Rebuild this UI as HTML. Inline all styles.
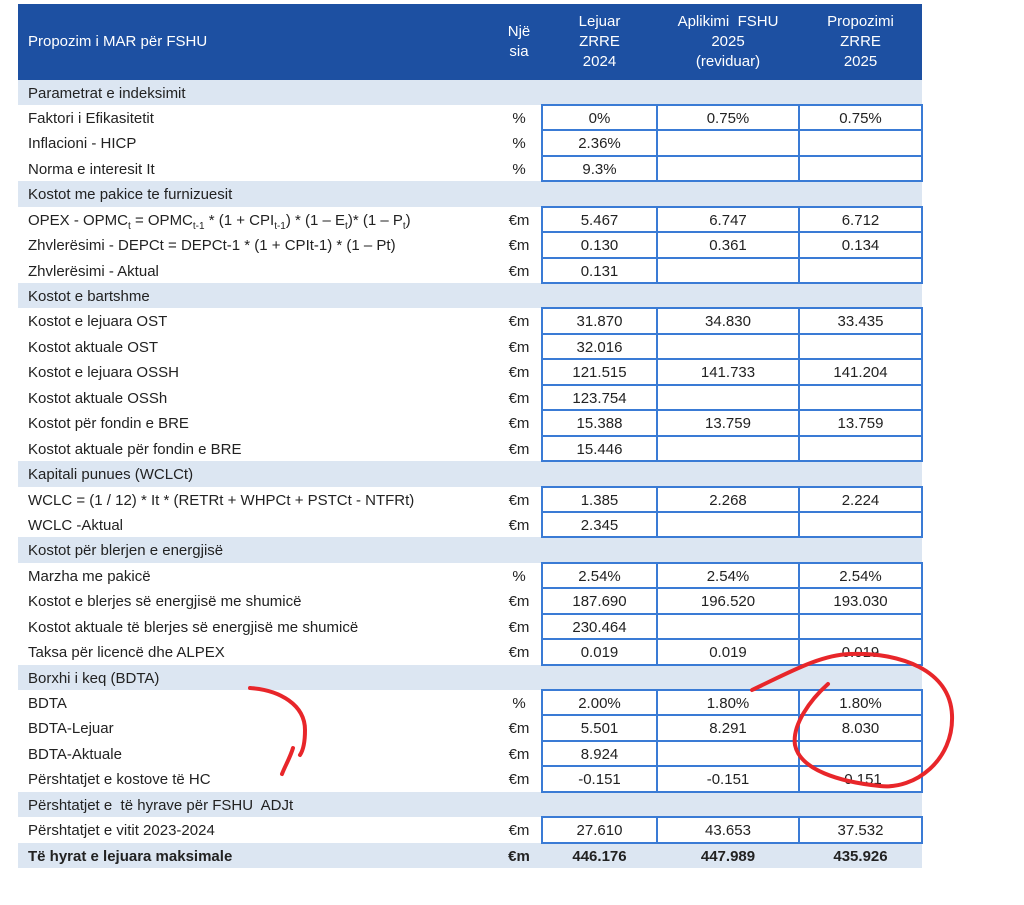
<!DOCTYPE html>
<html><head><meta charset="utf-8"><style>
html,body{margin:0;padding:0;background:#fff;width:1024px;height:905px;overflow:hidden}
body{position:relative;font-family:"Liberation Sans",sans-serif;color:#222}
#t{position:absolute;left:18px;top:4px;width:904px}
.r{display:flex;height:25.45px;line-height:27px;font-size:15px;white-space:nowrap}
.r div{height:25.45px;box-sizing:border-box}
.h{height:75.5px;background:#1d50a2;color:#fff;display:flex;text-align:center;font-size:15px;line-height:20px}
.h div{display:flex;align-items:center;justify-content:center}
.s{background:#dce6f2}
.l{width:478px;padding-left:10px;box-sizing:border-box;overflow:hidden}
.u{width:46px;text-align:center}
.c1{width:115px;text-align:center}.c2{width:142px;text-align:center}.c3{width:123px;text-align:center}
.b .c1,.b .c2,.b .c3{box-shadow:0 0 0 1px #3a7bd5, inset 0 0 0 1px #3a7bd5}
.t{background:#dce6f2;font-weight:bold}
sub{font-size:10px;line-height:0}
svg{position:absolute;left:0;top:0}
</style></head><body>
<div id="t">
<div class="h"><div class="l" style="justify-content:flex-start">Propozim i MAR për FSHU</div><div class="u">Një<br>sia</div><div class="c1">Lejuar<br>ZRRE<br>2024</div><div class="c2">Aplikimi&nbsp; FSHU<br>2025<br>(reviduar)</div><div class="c3">Propozimi<br>ZRRE<br>2025</div></div>
<div class="r s"><div class="l">Parametrat e indeksimit</div></div>
<div class="r b"><div class="l">Faktori i Efikasitetit</div><div class="u">%</div><div class="c1">0%</div><div class="c2">0.75%</div><div class="c3">0.75%</div></div>
<div class="r b"><div class="l">Inflacioni - HICP</div><div class="u">%</div><div class="c1">2.36%</div><div class="c2"></div><div class="c3"></div></div>
<div class="r b"><div class="l">Norma e interesit It</div><div class="u">%</div><div class="c1">9.3%</div><div class="c2"></div><div class="c3"></div></div>
<div class="r s"><div class="l">Kostot me pakice te furnizuesit</div></div>
<div class="r b"><div class="l">OPEX - OPMC<sub>t</sub> = OPMC<sub>t-1</sub> * (1 + CPI<sub>t-1</sub>) * (1 – E<sub>t</sub>)* (1 – P<sub>t</sub>)</div><div class="u">€m</div><div class="c1">5.467</div><div class="c2">6.747</div><div class="c3">6.712</div></div>
<div class="r b"><div class="l">Zhvlerësimi - DEPCt = DEPCt-1 * (1 + CPIt-1) * (1 – Pt)</div><div class="u">€m</div><div class="c1">0.130</div><div class="c2">0.361</div><div class="c3">0.134</div></div>
<div class="r b"><div class="l">Zhvlerësimi - Aktual</div><div class="u">€m</div><div class="c1">0.131</div><div class="c2"></div><div class="c3"></div></div>
<div class="r s"><div class="l">Kostot e bartshme</div></div>
<div class="r b"><div class="l">Kostot e lejuara OST</div><div class="u">€m</div><div class="c1">31.870</div><div class="c2">34.830</div><div class="c3">33.435</div></div>
<div class="r b"><div class="l">Kostot aktuale OST</div><div class="u">€m</div><div class="c1">32.016</div><div class="c2"></div><div class="c3"></div></div>
<div class="r b"><div class="l">Kostot e lejuara OSSH</div><div class="u">€m</div><div class="c1">121.515</div><div class="c2">141.733</div><div class="c3">141.204</div></div>
<div class="r b"><div class="l">Kostot aktuale OSSh</div><div class="u">€m</div><div class="c1">123.754</div><div class="c2"></div><div class="c3"></div></div>
<div class="r b"><div class="l">Kostot për fondin e BRE</div><div class="u">€m</div><div class="c1">15.388</div><div class="c2">13.759</div><div class="c3">13.759</div></div>
<div class="r b"><div class="l">Kostot aktuale për fondin e BRE</div><div class="u">€m</div><div class="c1">15.446</div><div class="c2"></div><div class="c3"></div></div>
<div class="r s"><div class="l">Kapitali punues (WCLCt)</div></div>
<div class="r b"><div class="l">WCLC = (1 / 12) * It * (RETRt + WHPCt + PSTCt - NTFRt)</div><div class="u">€m</div><div class="c1">1.385</div><div class="c2">2.268</div><div class="c3">2.224</div></div>
<div class="r b"><div class="l">WCLC -Aktual</div><div class="u">€m</div><div class="c1">2.345</div><div class="c2"></div><div class="c3"></div></div>
<div class="r s"><div class="l">Kostot për blerjen e energjisë</div></div>
<div class="r b"><div class="l">Marzha me pakicë</div><div class="u">%</div><div class="c1">2.54%</div><div class="c2">2.54%</div><div class="c3">2.54%</div></div>
<div class="r b"><div class="l">Kostot e blerjes së energjisë me shumicë</div><div class="u">€m</div><div class="c1">187.690</div><div class="c2">196.520</div><div class="c3">193.030</div></div>
<div class="r b"><div class="l">Kostot aktuale të blerjes së energjisë me shumicë</div><div class="u">€m</div><div class="c1">230.464</div><div class="c2"></div><div class="c3"></div></div>
<div class="r b"><div class="l">Taksa për licencë dhe ALPEX</div><div class="u">€m</div><div class="c1">0.019</div><div class="c2">0.019</div><div class="c3">0.019</div></div>
<div class="r s"><div class="l">Borxhi i keq (BDTA)</div></div>
<div class="r b"><div class="l">BDTA</div><div class="u">%</div><div class="c1">2.00%</div><div class="c2">1.80%</div><div class="c3">1.80%</div></div>
<div class="r b"><div class="l">BDTA-Lejuar</div><div class="u">€m</div><div class="c1">5.501</div><div class="c2">8.291</div><div class="c3">8.030</div></div>
<div class="r b"><div class="l">BDTA-Aktuale</div><div class="u">€m</div><div class="c1">8.924</div><div class="c2"></div><div class="c3"></div></div>
<div class="r b"><div class="l">Përshtatjet e kostove të HC</div><div class="u">€m</div><div class="c1">-0.151</div><div class="c2">-0.151</div><div class="c3">-0.151</div></div>
<div class="r s"><div class="l">Përshtatjet e&nbsp; të hyrave për FSHU&nbsp; ADJt</div></div>
<div class="r b"><div class="l">Përshtatjet e vitit 2023-2024</div><div class="u">€m</div><div class="c1">27.610</div><div class="c2">43.653</div><div class="c3">37.532</div></div>
<div class="r t"><div class="l">Të hyrat e lejuara maksimale</div><div class="u">€m</div><div class="c1">446.176</div><div class="c2">447.989</div><div class="c3">435.926</div></div>
</div>
<svg width="1024" height="905" viewBox="0 0 1024 905" fill="none" stroke="#e8262a" stroke-linecap="round">
<path d="M752 690 C790 672 820 655 850 654 C900 652 950 670 952 715 C954 760 915 790 880 786 C840 782 800 770 795 745 C792 725 810 700 828 684" stroke-width="4"/>
<path d="M250 688 C280 690 305 705 305 730 C305 745 302 752 300 755" stroke-width="4"/>
<path d="M293 748 C290 758 285 766 282 774" stroke-width="4"/>
</svg>
</body></html>
